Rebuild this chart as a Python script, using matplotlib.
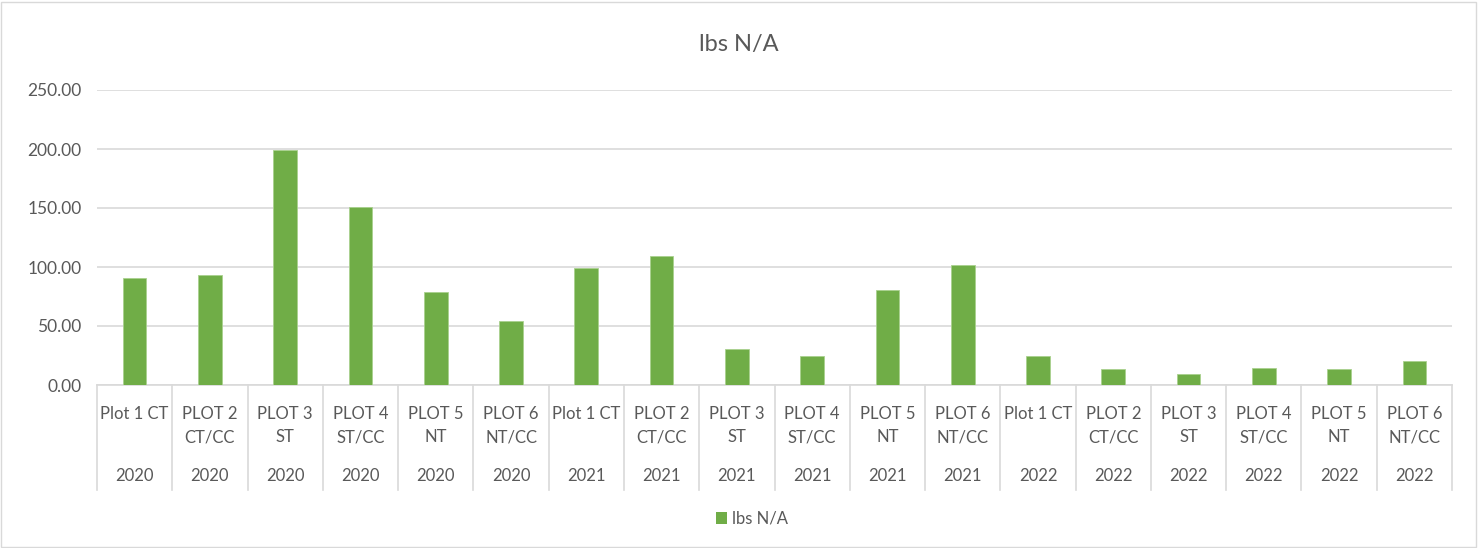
import numpy as np
import matplotlib.pyplot as plt
from matplotlib.patches import Rectangle, Patch
from matplotlib.ticker import FormatStrFormatter

# ------------------------------------------------------------
# Data
# ------------------------------------------------------------
plots = ["Plot 1 CT", "PLOT 2\nCT/CC", "PLOT 3\nST", "PLOT 4\nST/CC", "PLOT 5\nNT", "PLOT 6\nNT/CC"]
years = ["2020", "2021", "2022"]
lbs_2020 = [90.3, 93.2, 199.4, 150.5, 78.8, 54.5]
lbs_2021 = [98.8, 109.0, 30.5, 24.3, 80.5, 101.7]
lbs_2022 = [24.6, 13.3, 9.0, 14.4, 13.3, 20.3]

labels = [p for y in years for p in plots]
year_labels = [y for y in years for p in plots]
values = lbs_2020 + lbs_2021 + lbs_2022

# ------------------------------------------------------------
# Style
# ------------------------------------------------------------
plt.rcParams['font.family'] = ['Lato', 'DejaVu Sans']
text_col = '#595959'
grid_col = '#d9d9d9'
bar_col = '#70AD47'

W, H = 1478, 548
fig = plt.figure(figsize=(W / 100, H / 100), dpi=100)
ax = fig.add_axes([97 / W, (H - 385) / H, 1355 / W, 295 / H])

x = np.arange(len(values))
ax.bar(x, values, width=0.315, color=bar_col, edgecolor='#a9d18e', linewidth=0.6, zorder=3)

ax.set_xlim(-0.5, len(values) - 0.5)
ax.set_ylim(0, 250)
ax.set_yticks(np.arange(0, 251, 50))
ax.yaxis.set_major_formatter(FormatStrFormatter('%.2f'))
ax.tick_params(axis='y', length=0, labelsize=12.5, labelcolor=text_col, pad=11)
ax.set_xticks([])
ax.grid(axis='y', color=grid_col, linewidth=1.2, zorder=0)
for s in ['top', 'right', 'left']:
    ax.spines[s].set_visible(False)
ax.spines['bottom'].set_color(grid_col)
ax.spines['bottom'].set_linewidth(1.2)

# multi-level category labels
trans = ax.get_xaxis_transform()
ax_h = 295
for i, (lab, yr) in enumerate(zip(labels, year_labels)):
    ax.text(i, -21 / ax_h, lab, transform=trans, ha='center', va='top',
            fontsize=12, color=text_col, linespacing=1.55)
    ax.text(i, -91 / ax_h, yr, transform=trans, ha='center', va='center',
            fontsize=12, color=text_col)
for b in np.arange(-0.5, len(values), 1.0):
    ax.plot([b, b], [0, -105 / ax_h], transform=trans, color=grid_col,
            linewidth=1.2, clip_on=False)

fig.text(0.5, 1 - 45 / H, "lbs N/A", ha='center', va='center', fontsize=17, color=text_col)
fig.legend(handles=[Patch(facecolor=bar_col, label='lbs N/A')], loc='center',
           bbox_to_anchor=(752 / W, 1 - 519 / H), frameon=False, fontsize=12,
           labelcolor=text_col, handlelength=0.7, handleheight=0.7, handletextpad=0.3)

fig.patches.append(Rectangle((1 / W, 1 / H), (W - 3) / W, (H - 3) / H, transform=fig.transFigure,
                             fill=False, edgecolor=grid_col, linewidth=1))

fig.savefig('out.png', dpi=100)
